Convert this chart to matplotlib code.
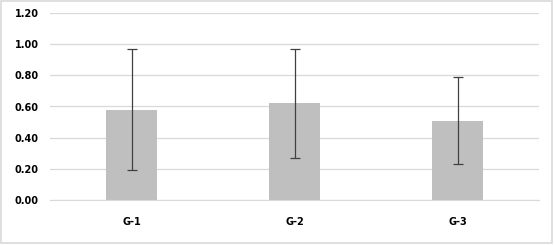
import matplotlib
matplotlib.use("Agg")
import matplotlib.pyplot as plt
import numpy as np

categories = ["G-1", "G-2", "G-3"]
means = [0.58, 0.62, 0.51]
errors = [0.39, 0.35, 0.28]
yticks = [0.0, 0.2, 0.4, 0.6, 0.8, 1.0, 1.2]

fig = plt.figure(figsize=(5.54, 2.45), dpi=100)
fig.patches.append(plt.Rectangle((0.002, 0.008), 0.994, 0.988, transform=fig.transFigure,
                                 fill=False, edgecolor="#d9d9d9", linewidth=1.2))
ax = fig.add_axes([50/554, 1-200/245, 489/554, 187/245])
x = np.arange(len(categories))
ax.bar(x, means, width=0.31, color="#bfbfbf", zorder=2)
ax.errorbar(x, means, yerr=errors, fmt="none", ecolor="#404040", elinewidth=0.9,
            capsize=3.5, capthick=0.9, zorder=3)
ax.set_xlim(-0.5, 2.5)
ax.set_ylim(0, 1.2)
ax.set_yticks(yticks)
ax.set_yticklabels([f"{v:.2f}" for v in yticks], fontsize=7, fontweight="bold")
ax.set_xticks(x)
ax.set_xticklabels(categories, fontsize=7, fontweight="bold")
ax.grid(axis="y", color="#d9d9d9", linewidth=0.9, zorder=0)
for s in ["top", "right", "left"]:
    ax.spines[s].set_visible(False)
ax.spines["bottom"].set_color("#d9d9d9")
ax.tick_params(axis="both", length=0)
ax.tick_params(axis="y", pad=8)
ax.tick_params(axis="x", pad=12)
fig.savefig("out.png", dpi=100)
